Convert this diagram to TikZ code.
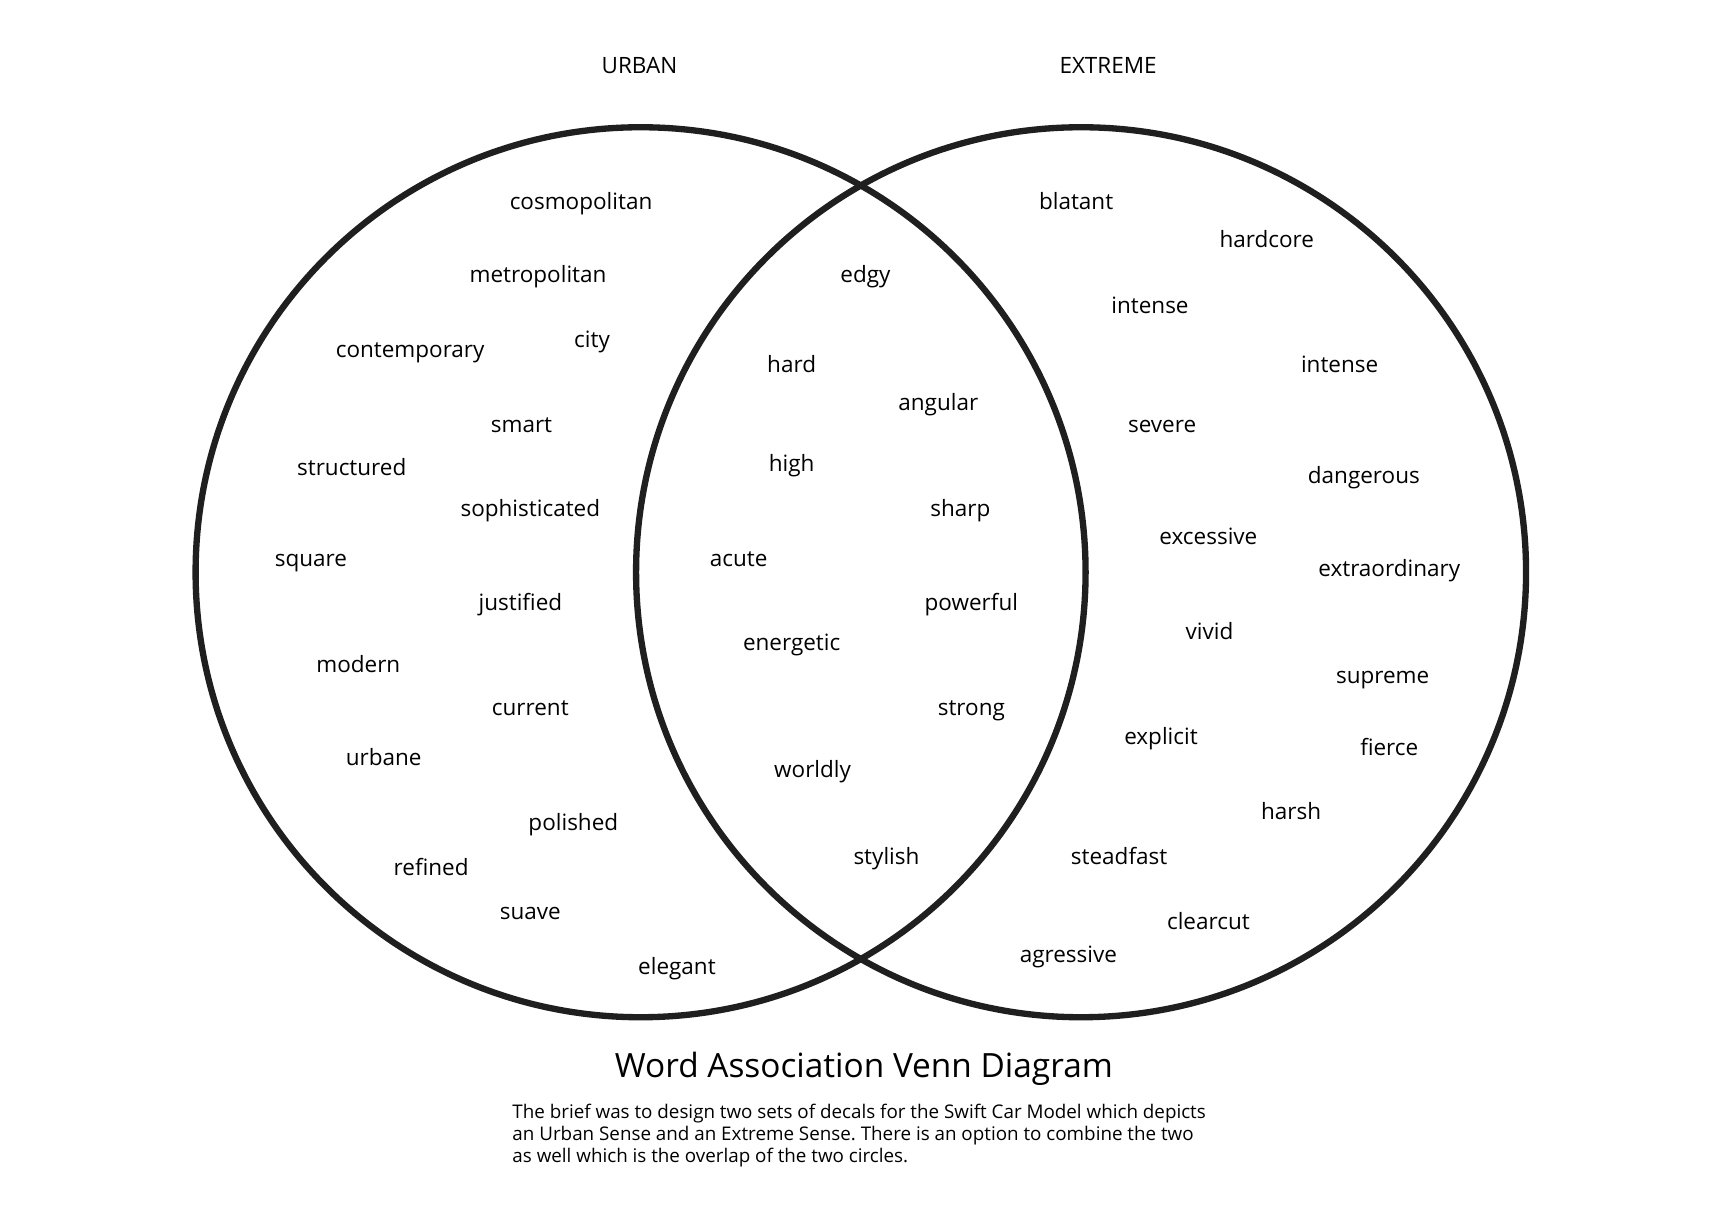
\documentclass[tikz,border=0pt]{standalone}
\usepackage{fontspec}
\setmainfont{Open Sans}
\frenchspacing
\newcommand\wordfont{\fontsize{12.8}{15}\selectfont}
\newcommand\titlefont{\fontsize{19}{23}\selectfont}
\newcommand\notefont{\fontsize{10.7}{12.5}\selectfont}

\begin{document}
\begin{tikzpicture}[x=0.22052mm,y=-0.22052mm,
  ring/.style={line width=3.6pt, black!88},
  word/.style={font=\wordfont, anchor=mid, inner sep=0pt, yshift=-0.4mm}]
\useasboundingbox[fill=white] (0,0) rectangle (1560,1103.8);

% Circles
\draw[ring] (581,519) circle[radius=89mm];
\draw[ring] (980.5,519) circle[radius=89mm];

% Headings
\node[word] (urban) at (580,61) {URBAN};
\node[word] (extreme) at (1005,61) {EXTREME};

% Urban side
\node[word] (cosmopolitan) at (527,184) {cosmopolitan};
\node[word] (metropolitan) at (488,250) {metropolitan};
\node[word] (contemporary) at (372,318) {contemporary};
\node[word] (city) at (537,309) {city};
\node[word] (smart) at (473,386) {smart};
\node[word] (structured) at (319,425) {structured};
\node[word] (sophisticated) at (481,462) {sophisticated};
\node[word] (square) at (282,508) {square};
\node[word] (justified) at (472,548) {justified};
\node[word] (modern) at (325,604) {modern};
\node[word] (current) at (481,643) {current};
\node[word] (urbane) at (348,688) {urbane};
\node[word] (polished) at (520,747) {polished};
\node[word] (refined) at (391,788) {refined};
\node[word] (suave) at (481,828) {suave};
\node[word] (elegant) at (614,878) {elegant};

% Overlap
\node[word] (edgy) at (785,250) {edgy};
\node[word] (hard) at (718,332) {hard};
\node[word] (angular) at (851,366) {angular};
\node[word] (high) at (718,422) {high};
\node[word] (sharp) at (871,462) {sharp};
\node[word] (acute) at (670,508) {acute};
\node[word] (powerful) at (881,548) {powerful};
\node[word] (energetic) at (718,584) {energetic};
\node[word] (strong) at (881,643) {strong};
\node[word] (worldly) at (737,699) {worldly};
\node[word] (stylish) at (804,778) {stylish};

% Extreme side
\node[word] (blatant) at (976,184) {blatant};
\node[word] (hardcore) at (1149,218) {hardcore};
\node[word] (intenseA) at (1043,278) {intense};
\node[word] (intenseB) at (1215,332) {intense};
\node[word] (severe) at (1054,386) {severe};
\node[word] (dangerous) at (1237,432) {dangerous};
\node[word] (excessive) at (1096,488) {excessive};
\node[word] (extraordinary) at (1260,517) {extraordinary};
\node[word] (vivid) at (1097,574) {vivid};
\node[word] (supreme) at (1254,614) {supreme};
\node[word] (explicit) at (1053,669) {explicit};
\node[word] (fierce) at (1260,679) {fierce};
\node[word] (harsh) at (1171,737) {harsh};
\node[word] (steadfast) at (1015,778) {steadfast};
\node[word] (clearcut) at (1096,837) {clearcut};
\node[word] (agressive) at (969,867) {agressive};

% Title and note
\node[font=\titlefont, anchor=base, inner sep=0pt] (title) at (783.5,977) {Word Association Venn Diagram};
\node[font=\notefont, anchor=north west, inner sep=0pt, align=left] (note) at (464.5,1001)
  {The brief was to design two sets of decals for the Swift Car Model which depicts\\
   an Urban Sense and an Extreme Sense. There is an option to combine the two\\
   as well which is the overlap of the two circles.};
\end{tikzpicture}
\end{document}
